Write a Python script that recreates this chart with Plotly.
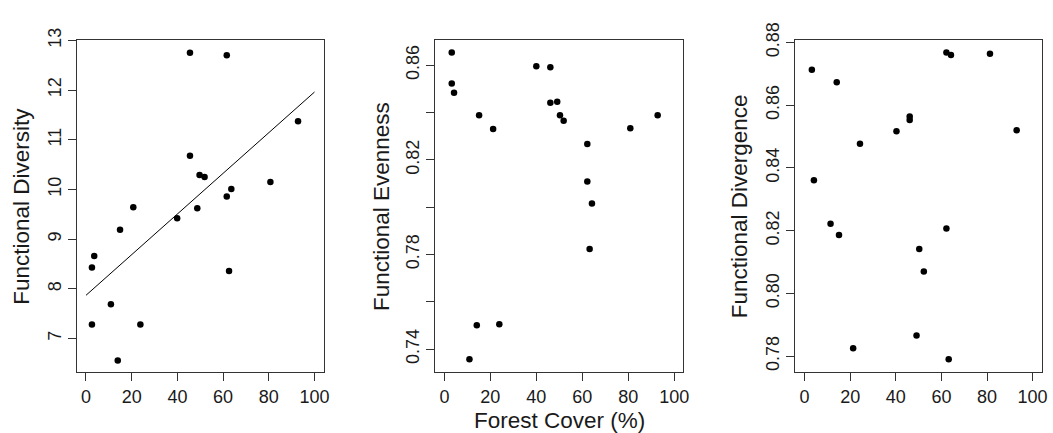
import plotly.graph_objects as go

# ---- data ----
fd_x = [2.6, 3.6, 2.6, 10.9, 13.9, 14.9, 20.7, 23.8, 39.9, 45.5,
        45.5, 48.7, 49.7, 51.9, 61.6, 61.6, 62.6, 63.6, 80.7, 92.8]
fd_y = [8.43, 8.66, 7.28, 7.69, 6.56, 9.19, 9.64, 7.28, 9.42, 12.75,
        10.68, 9.62, 10.29, 10.25, 12.70, 9.86, 8.36, 10.01, 10.15, 11.37]

fit_x = [0, 100]
fit_y = [7.87, 11.96]

fe_x = [3.2, 3.2, 4.2, 10.9, 14.1, 15.1, 21.2, 23.9, 40.0, 46.1,
        46.1, 49.1, 50.3, 51.9, 62.2, 62.2, 63.2, 64.2, 80.9, 92.8]
fe_y = [0.8654, 0.8523, 0.8484, 0.7357, 0.7501, 0.8388, 0.8330, 0.7505, 0.8596, 0.8591,
        0.8441, 0.8445, 0.8388, 0.8365, 0.8267, 0.8108, 0.7823, 0.8016, 0.8334, 0.8388]

fdiv_x = [3.2, 4.1, 11.4, 14.1, 15.1, 21.3, 24.3, 40.3, 46.1, 46.1,
          49.1, 50.3, 52.3, 62.2, 62.2, 63.2, 64.2, 81.3, 93.0]
fdiv_y = [0.8713, 0.8361, 0.8222, 0.8673, 0.8186, 0.7825, 0.8477, 0.8517, 0.8564, 0.8553,
          0.7866, 0.8142, 0.8070, 0.8768, 0.8207, 0.7790, 0.8760, 0.8764, 0.8520]

x_ticks = [0, 20, 40, 60, 80, 100]
fd_ticks = [7, 8, 9, 10, 11, 12, 13]
fe_ticks = [0.74, 0.76, 0.78, 0.80, 0.82, 0.84, 0.86]
fe_labels = ["0.74", "", "0.78", "", "0.82", "", "0.86"]
fdiv_ticks = [0.78, 0.80, 0.82, 0.84, 0.86, 0.88]
fdiv_labels = ["0.78", "0.80", "0.82", "0.84", "0.86", "0.88"]

y_titles = ["Functional Diversity", "Functional Evenness", "Functional Divergence"]
x_title = "Forest Cover (%)"

W, H = 1053, 433
FONT = "Liberation Sans, Arial, sans-serif"
TXT = "#1a1a1a"
LINE = "#333333"

fig = go.Figure()
pt = dict(size=6.5, color="black")
fig.add_trace(go.Scatter(x=fd_x, y=fd_y, mode="markers", marker=pt, xaxis="x", yaxis="y"))
fig.add_trace(go.Scatter(x=fit_x, y=fit_y, mode="lines", line=dict(color="black", width=1),
                         xaxis="x", yaxis="y"))
fig.add_trace(go.Scatter(x=fe_x, y=fe_y, mode="markers", marker=pt, xaxis="x2", yaxis="y2"))
fig.add_trace(go.Scatter(x=fdiv_x, y=fdiv_y, mode="markers", marker=pt, xaxis="x3", yaxis="y3"))

def px(v):
    return v / W

doms = [(77.3, 325.5), (437.7, 687.3), (800.0, 1047.7)]
ydom = [1 - 369.5 / H, 1 - 23.3 / H]

common = dict(showline=True, mirror=True, linecolor=LINE, linewidth=1,
              ticks="outside", ticklen=8, tickcolor=LINE, tickwidth=1,
              showgrid=False, zeroline=False,
              tickfont=dict(family=FONT, size=18, color=TXT))

xr = [-4, 104]
layout = dict(
    width=W, height=H, margin=dict(l=0, r=0, t=0, b=0),
    paper_bgcolor="white", plot_bgcolor="white", showlegend=False,
)
for i, (a, b) in enumerate(doms):
    k = "" if i == 0 else str(i + 1)
    layout["xaxis" + k] = dict(domain=[px(a), px(b)], range=xr, tickvals=x_ticks,
                               anchor="y" + k, **common)
layout["yaxis"] = dict(domain=ydom, range=[6.324, 13.0], tickvals=fd_ticks,
                       tickangle=-90, anchor="x", **common)
layout["yaxis2"] = dict(domain=ydom, range=[0.7303, 0.8705], tickvals=fe_ticks,
                        ticktext=fe_labels, tickangle=-90, anchor="x2", **common)
layout["yaxis3"] = dict(domain=ydom, range=[0.7749, 0.8807], tickvals=fdiv_ticks,
                        ticktext=fdiv_labels, tickangle=-90, anchor="x3", **common)
fig.update_layout(**layout)

title_font = dict(family=FONT, size=22.5, color=TXT)
ycenter = 1 - 196.4 / H
for title, xc in zip(y_titles, [21.7, 383.0, 743.3]):
    fig.add_annotation(text=title, xref="paper", yref="paper", x=px(xc), y=ycenter,
                       textangle=-90, showarrow=False, font=title_font,
                       xanchor="center", yanchor="middle")
fig.add_annotation(text=x_title, xref="paper", yref="paper", x=px(562.5), y=1 - 420 / H,
                   showarrow=False, font=title_font, xanchor="center", yanchor="middle")

fig.write_html("out.html")
